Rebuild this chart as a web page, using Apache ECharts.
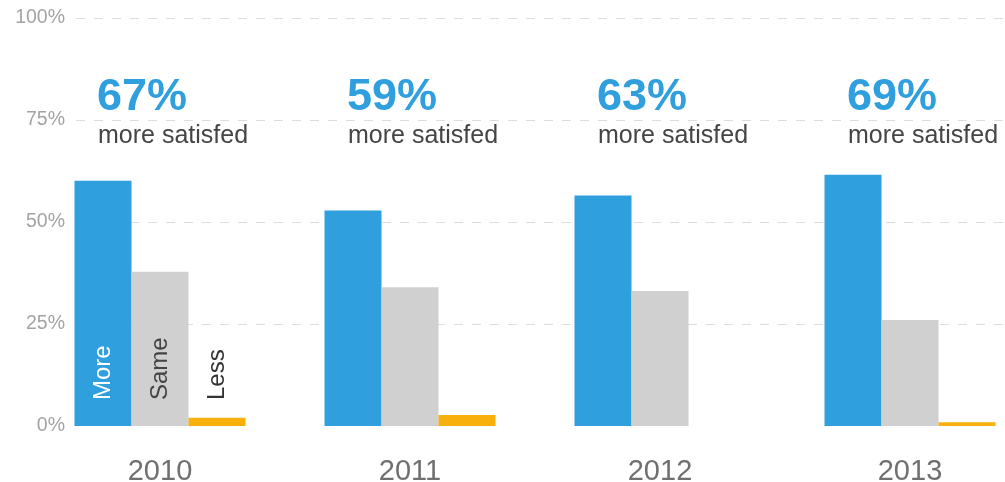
<!DOCTYPE html>
<html>
<head>
<meta charset="utf-8">
<script src="https://cdn.jsdelivr.net/npm/echarts@6/dist/echarts.min.js"></script>
<style>
  html, body { margin: 0; padding: 0; background: #ffffff; }
  #chart { width: 1005px; height: 482px; }
</style>
</head>
<body>
<div id="chart"></div>
<script>
// Survey: share of respondents more / same / less satisfied, by year
const years = ['2010', '2011', '2012', '2013'];
const seriesNames = ['More', 'Same', 'Less'];
const moreValues = [60.1, 52.8, 56.5, 61.6];
const sameValues = [37.8, 34.0, 33.1, 26.0];
const lessValues = [2.0, 2.7, 0, 0.9];
const moreSatisfied = [67, 59, 63, 69];
const captionText = 'more satisfed';
const yTicks = [0, 25, 50, 75, 100];

const FONT = '"Helvetica Neue", Helvetica, Arial, "Liberation Sans", sans-serif';
const BLUE = '#2f9fde';
const GREY = '#d0d0d0';
const ORANGE = '#f8b00c';

const yMin = yTicks[0];
const yMax = yTicks[yTicks.length - 1];
const yStep = yTicks[1] - yTicks[0];

// Only the first year's bars carry the rotated series name
function withFirstLabel(values) {
  return values.map((v, i) => (i === 0 ? { value: v, label: { show: true } } : v));
}

function barSeries(name, values, color, labelColor) {
  return {
    name: name,
    type: 'bar',
    xAxisIndex: 1,
    yAxisIndex: 1,
    barGap: '0%',
    barCategoryGap: '31.6%',
    itemStyle: { color: color },
    silent: true,
    label: {
      show: false,
      position: 'insideBottom',
      distance: 26,
      rotate: 90,
      align: 'left',
      verticalAlign: 'middle',
      formatter: name,
      color: labelColor,
      fontSize: 24,
      fontFamily: FONT
    },
    data: withFirstLabel(values)
  };
}

const annotationAnchor = 80.5;

function annotationSeries(name, formatter, offset, textStyle) {
  return {
    name: name,
    type: 'scatter',
    xAxisIndex: 1,
    yAxisIndex: 1,
    symbolSize: 0,
    silent: true,
    z: 5,
    itemStyle: { opacity: 1 },
    label: Object.assign({
      show: true,
      position: offset,
      align: 'left',
      verticalAlign: 'middle',
      formatter: formatter,
      fontFamily: FONT
    }, textStyle),
    data: years.map((y, i) => [i, annotationAnchor])
  };
}

const chart = echarts.init(document.getElementById('chart'), null, { renderer: 'canvas' });
chart.setOption({
  animation: false,
  backgroundColor: '#ffffff',
  textStyle: { fontFamily: FONT },
  grid: [
    { left: 76, right: 0, top: 18, bottom: 56, outerBoundsMode: 'none', containLabel: false },
    { left: 35, right: -30, top: 18, bottom: 56, outerBoundsMode: 'none', containLabel: false }
  ],
  xAxis: [
    { gridIndex: 0, type: 'category', data: years, show: false },
    {
      gridIndex: 1,
      type: 'category',
      data: years,
      axisLine: { show: false },
      axisTick: { show: false },
      axisLabel: { color: '#707070', fontSize: 29, margin: 31, fontFamily: FONT }
    }
  ],
  yAxis: [
    {
      gridIndex: 0,
      type: 'value',
      min: yMin,
      max: yMax,
      interval: yStep,
      axisLine: { show: false },
      axisTick: { show: false },
      axisLabel: { formatter: '{value}%', color: '#a3a3a3', fontSize: 19.5, margin: 11, fontFamily: FONT },
      splitLine: {
        show: true,
        lineStyle: {
          color: ['rgba(0,0,0,0)', '#dcdcdc', '#dcdcdc', '#dcdcdc', '#dcdcdc'],
          type: [9, 9],
          width: 1
        }
      }
    },
    { gridIndex: 1, type: 'value', min: yMin, max: yMax, interval: yStep, show: false }
  ],
  series: [
    barSeries(seriesNames[0], moreValues, BLUE, '#ffffff'),
    barSeries(seriesNames[1], sameValues, GREY, '#444444'),
    barSeries(seriesNames[2], lessValues, ORANGE, '#333333'),
    annotationSeries('moreSatisfied', p => moreSatisfied[p.dataIndex] + '%', [-63, 0],
      { color: BLUE, fontSize: 45, fontWeight: 'bold' }),
    annotationSeries('caption', captionText, [-62, 39],
      { color: '#454545', fontSize: 25 })
  ]
});
</script>
</body>
</html>
